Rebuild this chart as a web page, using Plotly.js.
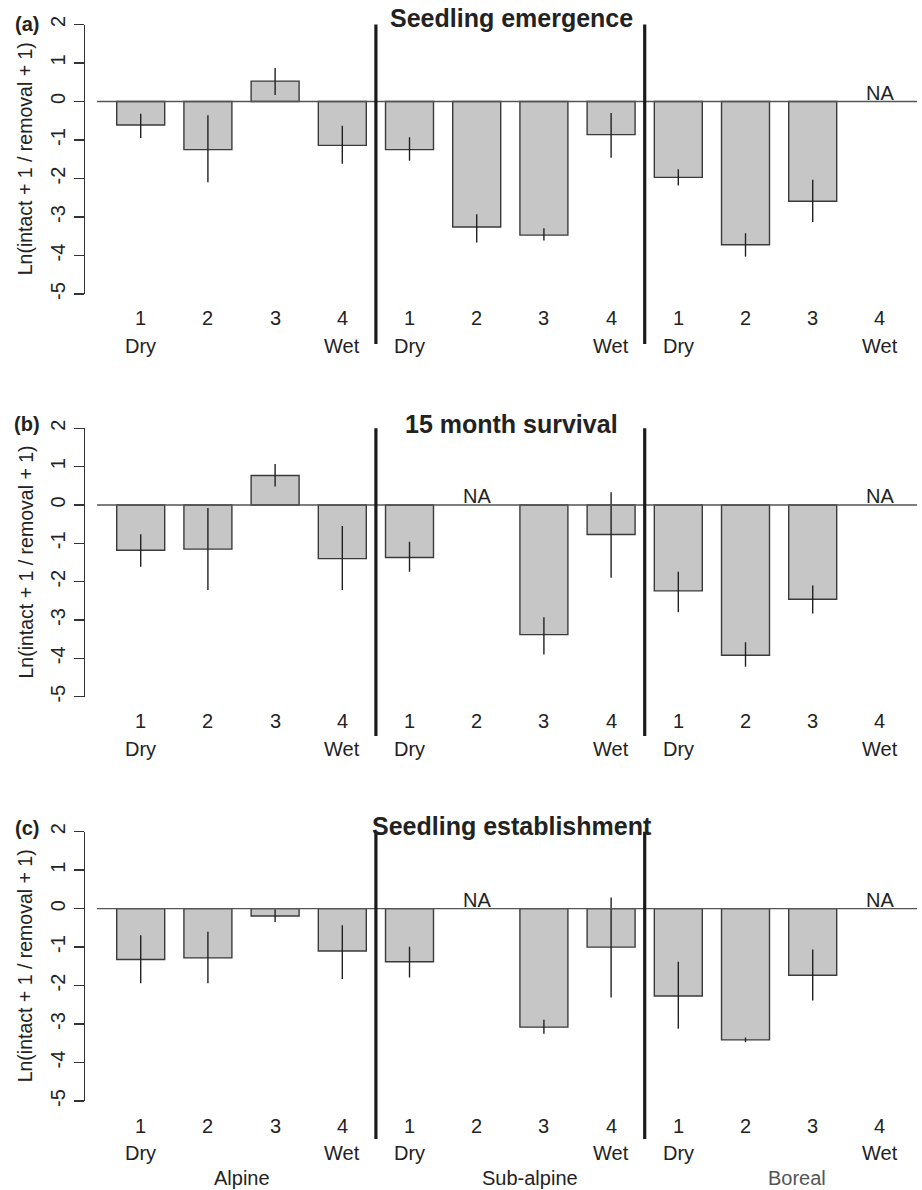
<!DOCTYPE html>
<html>
<head>
<meta charset="utf-8">
<script src="https://cdn.plot.ly/plotly-3.0.1.min.js"></script>
<style>html,body{margin:0;padding:0;background:#fff;}#chart{width:922px;height:1190px;}</style>
</head>
<body>
<div id="chart"></div>
<script>
// ---- data ----
const positions = [1,2,3,4,5,6,7,8,9,10,11,12];
const tickNums = ['1','2','3','4','1','2','3','4','1','2','3','4'];
const moistLabels = ['Dry','','','Wet','Dry','','','Wet','Dry','','','Wet'];
const zones = ['Alpine','Sub-alpine','Boreal'];
const zonePos = [2.5, 6.8, 10.76];
const panelTitles = ['Seedling emergence','15 month survival','Seedling establishment'];
const panelLetters = ['(a)','(b)','(c)'];
const yTicks = [-5,-4,-3,-2,-1,0,1,2];
const yTickText = ['-5','-4','-3','-2','-1','0','1','2'];

const emergenceMean = [-0.61,-1.25,0.53,-1.14,-1.25,-3.26,-3.47,-0.86,-1.97,-3.72,-2.59,null];
const emergenceHi   = [-0.32,-0.36,0.87,-0.63,-0.93,-2.93,-3.29,-0.30,-1.76,-3.42,-2.03,null];
const emergenceLo   = [-0.95,-2.10,0.17,-1.62,-1.54,-3.66,-3.61,-1.46,-2.18,-4.03,-3.13,null];

const survivalMean = [-1.18,-1.15,0.77,-1.40,-1.37,null,-3.38,-0.77,-2.24,-3.92,-2.46,null];
const survivalHi   = [-0.76,-0.08,1.07,-0.55,-0.96,null,-2.93,0.33,-1.74,-3.58,-2.10,null];
const survivalLo   = [-1.61,-2.22,0.48,-2.22,-1.74,null,-3.90,-1.90,-2.80,-4.22,-2.83,null];

const establishMean = [-1.32,-1.28,-0.19,-1.10,-1.38,null,-3.08,-1.00,-2.27,-3.41,-1.73,null];
const establishHi   = [-0.69,-0.60,-0.02,-0.43,-0.99,null,-2.89,0.29,-1.38,-3.35,-1.06,null];
const establishLo   = [-1.94,-1.94,-0.35,-1.83,-1.79,null,-3.25,-2.31,-3.12,-3.47,-2.39,null];

// ---- layout geometry ----
const W = 922, H = 1190;
const FONT = 'Liberation Sans, Arial, Helvetica, sans-serif';
const py = p => 1 - p / H;
const panels = [
  {mean: emergenceMean, hi: emergenceHi, lo: emergenceLo, top: 24.5, bot: 294, lineBot: 344, numY: 318, moistY: 346, titleY: 18, letterY: 24},
  {mean: survivalMean, hi: survivalHi, lo: survivalLo, top: 428.3, bot: 696.7, lineBot: 736, numY: 720.7, moistY: 749.3, titleY: 424, letterY: 424},
  {mean: establishMean, hi: establishHi, lo: establishLo, top: 831.7, bot: 1101, lineBot: 1139, numY: 1125.7, moistY: 1153.3, titleY: 826, letterY: 827.5}
];
const xRange = [0.171, 12.552];
const xDomain = [85 / W, 917 / W];
const separators = [4.5, 8.5];
const LBL = 20;

const traces = [];
const shapes = [];
const annotations = [];
const layout = {
  width: W, height: H,
  margin: {l: 0, r: 0, t: 0, b: 0},
  paper_bgcolor: '#fff', plot_bgcolor: 'rgba(0,0,0,0)',
  showlegend: false,
  font: {family: FONT, color: '#222', size: LBL},
  hovermode: false
};

panels.forEach((p, k) => {
  const sfx = k === 0 ? '' : String(k + 1);
  const xa = 'x' + sfx, ya = 'y' + sfx;
  traces.push({
    type: 'bar', x: positions, y: p.mean, xaxis: xa, yaxis: ya,
    width: 0.714,
    marker: {color: '#c6c6c6', line: {color: '#3a3a3a', width: 1.4}},
    error_y: {
      type: 'data', symmetric: false,
      array: p.mean.map((v, i) => v === null ? null : p.hi[i] - v),
      arrayminus: p.mean.map((v, i) => v === null ? null : v - p.lo[i]),
      width: 0, thickness: 1.4, color: '#222'
    }
  });
  layout['xaxis' + sfx] = {
    domain: xDomain, range: xRange, anchor: ya,
    showline: false, showgrid: false, zeroline: false, ticks: '', showticklabels: false, fixedrange: true
  };
  layout['yaxis' + sfx] = {
    domain: [py(p.bot), py(p.top)], range: [-5, 2], anchor: xa,
    tickvals: yTicks, ticktext: yTickText, tickangle: -90,
    ticks: 'outside', ticklen: 10, tickwidth: 1.4, tickcolor: '#333',
    ticklabelstandoff: 1,
    showline: true, linecolor: '#333', linewidth: 1.4,
    showgrid: false, zeroline: false, fixedrange: true,
    tickfont: {size: LBL, color: '#222', family: FONT}
  };
  // zero reference line
  shapes.push({type: 'line', xref: xa, yref: ya, x0: 0.35, x1: 12.552, y0: 0, y1: 0,
    line: {color: '#555', width: 1.4}, layer: 'above'});
  // zone separators
  separators.forEach(s => shapes.push({type: 'line', xref: xa, yref: 'paper', x0: s, x1: s,
    y0: py(p.lineBot), y1: py(p.top), line: {color: '#1a1a1a', width: 3.2}, layer: 'above'}));
  // x labels
  positions.forEach((x, i) => {
    annotations.push({xref: xa, yref: 'paper', x: x, y: py(p.numY), text: tickNums[i], showarrow: false,
      font: {size: LBL, color: '#222'}, xanchor: 'center', yanchor: 'middle'});
    if (moistLabels[i]) annotations.push({xref: xa, yref: 'paper', x: x, y: py(p.moistY), text: moistLabels[i], showarrow: false,
      font: {size: LBL, color: '#222'}, xanchor: 'center', yanchor: 'middle'});
    if (p.mean[i] === null) annotations.push({xref: xa, yref: ya, x: x, y: 0, text: 'NA', showarrow: false,
      font: {size: LBL, color: '#222'}, xanchor: 'center', yanchor: 'bottom', yshift: -4});
  });
  // panel title
  annotations.push({xref: 'paper', yref: 'paper', x: 511.5 / W, y: py(p.titleY), text: '<b>' + panelTitles[k] + '</b>',
    showarrow: false, font: {size: 25, color: '#222'}, xanchor: 'center', yanchor: 'middle'});
  // panel letter
  annotations.push({xref: 'paper', yref: 'paper', x: 27 / W, y: py(p.letterY), text: '<b>' + panelLetters[k] + '</b>',
    showarrow: false, font: {size: 20, color: '#222'}, xanchor: 'center', yanchor: 'middle'});
  // y axis title
  annotations.push({xref: 'paper', yref: 'paper', x: 25 / W, y: py((p.top + p.bot) / 2),
    text: 'Ln(intact + 1 / removal + 1)', textangle: -90, showarrow: false,
    font: {size: 19.5, color: '#222'}, xanchor: 'center', yanchor: 'middle'});
});

// zone names under the last panel
zones.forEach((z, i) => annotations.push({xref: 'x3', yref: 'paper', x: zonePos[i], y: py(1178.3), text: z,
  showarrow: false, font: {size: LBL, color: i === 2 ? '#555' : '#222'}, xanchor: 'center', yanchor: 'middle'}));

layout.shapes = shapes;
layout.annotations = annotations;
Plotly.newPlot('chart', traces, layout, {staticPlot: true, displayModeBar: false});
</script>
</body>
</html>
